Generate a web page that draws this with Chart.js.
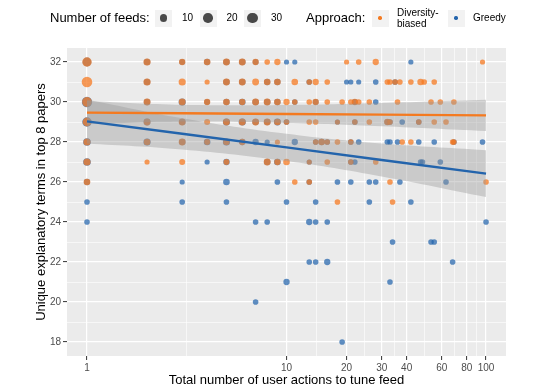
<!DOCTYPE html>
<html>
<head>
<meta charset="utf-8">
<script src="https://cdn.jsdelivr.net/npm/chart.js@4.4.1/dist/chart.umd.min.js"></script>
<style>
  body { margin: 0; background: #fff; font-family: "Liberation Sans", Arial, sans-serif; }
  #wrap { position: relative; width: 540px; height: 389px; }
  #c { position: absolute; left: 0; top: 0; }
  .txt { position: absolute; color: #000; white-space: nowrap; }
  .key { position: absolute; width: 17px; height: 17px; background: #F2F2F2; }
  .dot { position: absolute; border-radius: 50%; }
</style>
</head>
<body>
<div id="wrap">
  <canvas id="c" width="540" height="389"></canvas>
  <div id="legend"></div>
</div>
<script>
// axis breaks
const xBreaks = [1, 10, 20, 30, 40, 60, 80, 100];
const yBreaks = [18, 20, 22, 24, 26, 28, 30, 32];
const yMinor = [19, 21, 23, 25, 27, 29, 31];
const sizeBreaks = [10, 20, 30];

// [actions, unique terms, number of feeds]
const diversityPoints = [
  [1,32,20],[2,32,8],[3,32,5],[4,32,6],[5,32,7],[6,32,7],[7,32,5],[8,32,3],[9,32,5],[20,32,2],[23,32,3],[28,32,5],[96,32,2],
  [1,31,28],[2,31,8],[3,31,8],[4,31,2],[5,31,7],[6,31,7],[7,31,7],[8,31,6],[9,31,6],[11,31,6],[13,31,3],[14,31,5],[16,31,3],[32,31,3],[33,31,3],[35,31,3],[37,31,3],[42,31,3],[47,31,6],[49,31,3],[55,31,3],
  [1,30,22],[2,30,7],[3,30,7],[4,30,5],[5,30,6],[6,30,5],[7,30,7],[8,30,7],[9,30,6],[10,30,5],[11,30,3],[13,30,3],[14,30,5],[16,30,3],[19,30,3],[21,30,3],[22,30,5],[23,30,3],[26,30,3],[36,30,3],[53,30,3],[59,30,3],[69,30,3],
  [1,29,16],[2,29,7],[3,29,7],[4,29,4],[5,29,7],[6,29,7],[7,29,7],[8,29,7],[9,29,6],[10,29,3],[13,29,3],[14,29,3],[18,29,2],[22,29,3],[26,29,3],[32,29,5],[33,29,3],[46,29,3],[55,29,3],[63,29,3],
  [1,28,8],[2,28,6],[3,28,7],[4,28,4],[5,28,6],[6,28,5],[9,28,2],[14,28,3],[15,28,6],[16,28,3],[18,28,3],[21,28,3],[38,28,3],[42,28,3],[68,28,3],[69,28,3],
  [1,27,8],[2,27,2],[3,27,4],[5,27,4],[8,27,7],[9,27,5],[10,27,6],[13,27,2],[16,27,3],[21,27,3],[28,27,3],
  [1,26,6],[11,26,3],[13,26,3],[33,26,3],[100,26,3],
  [18,25,3],[34,25,3]
];

const greedyPoints = [
  [1,32,16],[2,32,6],[3,32,4],[4,32,5],[5,32,6],[6,32,6],[7,32,4],[10,32,2],[11,32,2],[42,32,2],
  [2,31,6],[5,31,6],[6,31,6],[8,31,5],[9,31,5],[13,31,3],[20,31,2],[21,31,2],[23,31,2],[28,31,3],[35,31,3],
  [1,30,26],[2,30,6],[3,30,8],[4,30,4],[5,30,5],[6,30,6],[7,30,6],[8,30,6],[9,30,5],[11,30,3],[14,30,4],[22,30,4],[28,30,3],
  [1,29,20],[2,29,7],[3,29,6],[5,29,8],[6,29,8],[7,29,6],[8,29,6],[9,29,7],[10,29,3],[18,29,2],[22,29,3],[32,29,4],[33,29,3],[38,29,3],[46,29,3],
  [1,28,10],[2,28,8],[3,28,6],[4,28,6],[5,28,8],[6,28,5],[7,28,5],[8,28,2],[11,28,5],[14,28,3],[15,28,5],[16,28,3],[21,28,3],[23,28,3],[32,28,3],[33,28,3],[36,28,3],[46,28,3],[55,28,3],[69,28,3],[96,28,3],
  [1,27,10],[4,27,2],[5,27,5],[8,27,6],[9,27,6],[13,27,2],[21,27,3],[22,27,3],[47,27,3],[48,27,3],[59,27,3],
  [1,26,5],[3,26,2],[5,26,6],[9,26,3],[13,26,3],[18,26,3],[21,26,3],[26,26,3],[28,26,3],[37,26,3],[63,26,3],
  [1,25,3],[3,25,3],[5,25,3],[10,25,3],[14,25,3],[26,25,3],[42,25,3],
  [1,24,3],[7,24,3],[8,24,3],[13,24,5],[14,24,3],[16,24,3],[100,24,3],
  [34,23,3],[53,23,3],[55,23,3],
  [13,22,3],[14,22,3],[16,22,5],[68,22,3],
  [10,21,5],[33,21,3],
  [7,20,3],
  [19,18,3]
];

// linear fits (log x) with confidence bands
const fitX = [1, 3, 10, 30, 100];
const diversityFit = [29.47, 29.44, 29.40, 29.37, 29.33];
const diversityHi = [30.05, 29.86, 29.85, 29.95, 30.11];
const diversityLo = [28.89, 29.02, 28.95, 28.79, 28.55];
const greedyFit = [29.03, 28.41, 27.73, 27.10, 26.42];
const greedyHi = [30.13, 29.19, 28.41, 27.92, 27.59];
const greedyLo = [27.93, 27.63, 27.05, 26.28, 25.25];

const ORANGE = '#F47A20';
const BLUE = '#2364AC';
const radius = n => 1.6 + 0.7 * Math.sqrt(n);

// minor x lines sit halfway between breaks on the log scale
const xMinor = xBreaks.slice(1).map((b, i) => Math.sqrt(b * xBreaks[i]));
const xTicks = xBreaks.concat(xMinor);
const yTicks = yBreaks.concat(yMinor);

const toPts = arr => arr.map(([x, y, n]) => ({ x, y, n }));
const toLine = ys => fitX.map((x, i) => ({ x, y: ys[i] }));

// legend (html)
const legend = document.getElementById('legend');
function addText(text, left, top, size, lh) {
  const d = document.createElement('div');
  d.className = 'txt';
  d.innerHTML = text;
  d.style.left = left + 'px';
  d.style.top = top + 'px';
  d.style.fontSize = size + 'px';
  d.style.lineHeight = lh + 'px';
  legend.appendChild(d);
}
function addKey(left, r, color) {
  const k = document.createElement('div');
  k.className = 'key';
  k.style.left = left + 'px';
  k.style.top = '9.5px';
  const dot = document.createElement('div');
  dot.className = 'dot';
  dot.style.width = dot.style.height = (2 * r) + 'px';
  dot.style.left = dot.style.top = (8.5 - r) + 'px';
  dot.style.background = color;
  k.appendChild(dot);
  legend.appendChild(k);
}
addText('Number of feeds:', 50, 10, 13, 16);
[155, 199.5, 244].forEach((left, i) => {
  addKey(left, radius(sizeBreaks[i]), 'rgba(0,0,0,0.7)');
  addText(String(sizeBreaks[i]), left + 27, 12, 10, 12);
});
addText('Approach:', 306, 10, 13, 16);
addKey(371.5, 1.7, ORANGE);
addText('Diversity-<br>biased', 397, 7, 10, 11);
addKey(447.5, 1.7, BLUE);
addText('Greedy', 473, 12, 10, 12);

const panelBg = {
  id: 'panelBg',
  beforeDraw(chart) {
    const { ctx, chartArea: a } = chart;
    ctx.save();
    ctx.fillStyle = '#EBEBEB';
    ctx.fillRect(a.left, a.top, a.right - a.left, a.bottom - a.top);
    ctx.restore();
  }
};

const isMajorX = v => xBreaks.includes(v);
const isMajorY = v => yBreaks.includes(v);

new Chart(document.getElementById('c'), {
  type: 'scatter',
  data: {
    datasets: [
      { label: 'Greedy', data: toPts(greedyPoints), pointBackgroundColor: 'rgba(35,100,172,0.72)',
        pointBorderWidth: 0, pointRadius: c => radius(c.raw.n), order: 6 },
      { label: 'Diversity-biased', data: toPts(diversityPoints), pointBackgroundColor: 'rgba(246,122,34,0.75)',
        pointBorderWidth: 0, pointRadius: c => radius(c.raw.n), order: 5 },
      { type: 'line', data: toLine(greedyHi), borderColor: 'transparent', pointRadius: 0, tension: 0.4,
        fill: '+1', backgroundColor: 'rgba(153,153,153,0.4)', order: 4 },
      { type: 'line', data: toLine(greedyLo), borderColor: 'transparent', pointRadius: 0, tension: 0.4,
        fill: false, order: 4 },
      { type: 'line', data: toLine(diversityHi), borderColor: 'transparent', pointRadius: 0, tension: 0.4,
        fill: '+1', backgroundColor: 'rgba(153,153,153,0.4)', order: 3 },
      { type: 'line', data: toLine(diversityLo), borderColor: 'transparent', pointRadius: 0, tension: 0.4,
        fill: false, order: 3 },
      { type: 'line', data: toLine(greedyFit), borderColor: BLUE, borderWidth: 2.4, pointRadius: 0,
        fill: false, order: 2 },
      { type: 'line', data: toLine(diversityFit), borderColor: ORANGE, borderWidth: 2.4, pointRadius: 0,
        fill: false, order: 1 }
    ]
  },
  options: {
    responsive: false,
    devicePixelRatio: 1,
    animation: false,
    events: [],
    layout: { padding: { left: 0, top: 48, right: 34, bottom: 0 } },
    plugins: { legend: { display: false }, tooltip: { enabled: false } },
    scales: {
      x: {
        type: 'logarithmic',
        min: 0.794,
        max: 125.9,
        afterBuildTicks: s => { s.ticks = xTicks.map(v => ({ value: v })); },
        afterFit: s => { s.height = 33; },
        border: { display: false },
        grid: {
          color: '#FFFFFF',
          lineWidth: c => (c.tick && isMajorX(c.tick.value)) ? 1.2 : 0.6,
          tickColor: c => (c.tick && isMajorX(c.tick.value)) ? '#333333' : 'rgba(0,0,0,0)',
          tickLength: 4,
          tickWidth: 1
        },
        ticks: {
          autoSkip: false, maxRotation: 0, padding: 2, color: '#4D4D4D',
          font: { family: 'Liberation Sans', size: 10 },
          callback: v => isMajorX(v) ? String(v) : ''
        },
        title: {
          display: true, text: 'Total number of user actions to tune feed', color: '#000',
          font: { family: 'Liberation Sans', size: 13 }, padding: { top: 0, bottom: 1 }
        }
      },
      y: {
        min: 17.3,
        max: 32.7,
        afterBuildTicks: s => { s.ticks = yTicks.map(v => ({ value: v })); },
        afterFit: s => { s.width = 67; },
        border: { display: false },
        grid: {
          color: '#FFFFFF',
          lineWidth: c => (c.tick && isMajorY(c.tick.value)) ? 1.2 : 0.6,
          tickColor: c => (c.tick && isMajorY(c.tick.value)) ? '#333333' : 'rgba(0,0,0,0)',
          tickLength: 4,
          tickWidth: 1
        },
        ticks: {
          autoSkip: false, padding: 2, color: '#4D4D4D',
          font: { family: 'Liberation Sans', size: 10 },
          callback: v => isMajorY(v) ? String(v) : ''
        },
        title: {
          display: true, text: 'Unique explanatory terms in top 8 papers', color: '#000',
          font: { family: 'Liberation Sans', size: 13 }, padding: { top: 34, bottom: 0 }
        }
      }
    }
  },
  plugins: [panelBg]
});
</script>
</body>
</html>
